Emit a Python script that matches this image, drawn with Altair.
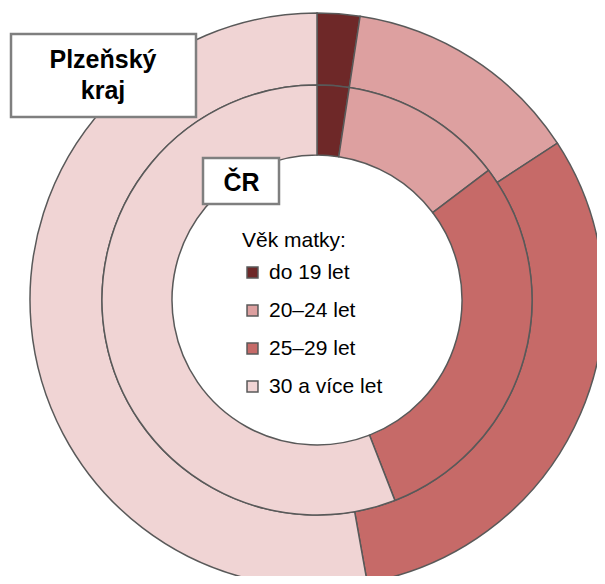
import altair as alt
import pandas as pd

categories = ["do 19 let", "20–24 let", "25–29 let", "30 a více let"]
cr_values = [2.4, 12.3, 29.4, 55.9]
plzen_values = [2.4, 13.4, 31.4, 52.8]
colors = ["#6E2828", "#DDA0A0", "#C66A68", "#F0D4D4"]
region_labels = ["Plzeňský\nkraj", "ČR"]

df_cr = pd.DataFrame({"kat": categories, "podil": cr_values, "poradi": list(range(4))})
df_pl = pd.DataFrame({"kat": categories, "podil": plzen_values, "poradi": list(range(4))})

FONT = "Liberation Sans"
CX, CY = 309, 292

color = alt.Color(
    "kat:N",
    scale=alt.Scale(domain=categories, range=colors),
    sort=categories,
    legend=alt.Legend(
        orient="none", legendX=234, legendY=222,
        title="Věk matky:", titleFont=FONT, titleFontSize=21, titleFontWeight="normal",
        titleColor="black", titlePadding=11,
        labelFont=FONT, labelFontSize=21, labelColor="black", labelOffset=6,
        symbolType="square", symbolSize=120, symbolStrokeColor="#595959",
        symbolStrokeWidth=1.5, symbolOpacity=1, rowPadding=16, padding=0,
    ),
)

outer = alt.Chart(df_pl).mark_arc(radius=287, radius2=215, stroke="#595959", strokeWidth=1.5).encode(
    theta=alt.Theta("podil:Q", stack=True),
    order=alt.Order("poradi:Q"),
    color=color,
    x=alt.value(CX), y=alt.value(CY),
)
inner = alt.Chart(df_cr).mark_arc(radius=215, radius2=145, stroke="#595959", strokeWidth=1.5).encode(
    theta=alt.Theta("podil:Q", stack=True),
    order=alt.Order("poradi:Q"),
    color=color,
    x=alt.value(CX), y=alt.value(CY),
)

lab_pl = pd.DataFrame({"label": [region_labels[0]]})
lab_cr = pd.DataFrame({"label": [region_labels[1]]})

box_pl = alt.Chart(lab_pl).mark_rect(fill="white", stroke="#7F7F7F", strokeWidth=2.5).encode(
    x=alt.value(3), x2=alt.value(188), y=alt.value(26), y2=alt.value(109))
txt_pl = alt.Chart(lab_pl).mark_text(font=FONT, fontSize=25, fontWeight="bold", lineBreak="\n",
                                     lineHeight=31, baseline="alphabetic", align="center", color="black").encode(
    x=alt.value(95), y=alt.value(60), text="label:N")
box_cr = alt.Chart(lab_cr).mark_rect(fill="white", stroke="#7F7F7F", strokeWidth=2.5).encode(
    x=alt.value(195), x2=alt.value(271), y=alt.value(150), y2=alt.value(196))
txt_cr = alt.Chart(lab_cr).mark_text(font=FONT, fontSize=25, fontWeight="bold",
                                     baseline="alphabetic", align="center", color="black").encode(
    x=alt.value(233.5), y=alt.value(183), text="label:N")

chart = alt.layer(outer, inner, box_pl, txt_pl, box_cr, txt_cr).properties(
    width=589, height=568, autosize=alt.AutoSizeParams(type="none"), padding=0
).configure_view(stroke=None)

chart.save("out.html", embed_options={"renderer": "svg", "actions": False})
